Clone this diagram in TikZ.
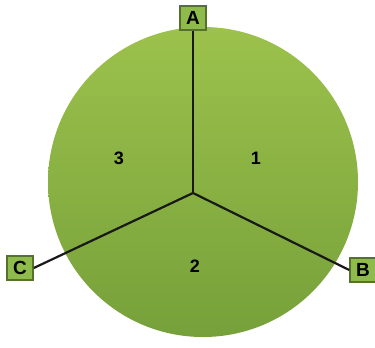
\documentclass[tikz,border=0pt]{standalone}
\usepackage{fontspec}
\setmainfont{Liberation Sans}
\begin{document}
\begin{tikzpicture}[x=1pt,y=-1pt,
  lbl/.style={draw=boxg!60!black, line width=1.5pt, fill=boxg, minimum width=26pt, minimum height=24pt, inner sep=0pt, font=\fontsize{19}{19}\selectfont\bfseries},
  num/.style={font=\fontsize{18}{18}\selectfont\bfseries},
  spoke/.style={line width=2.2pt, black!90}]
\definecolor{topg}{HTML}{9CC24C}
\definecolor{botg}{HTML}{76A03A}
\definecolor{boxg}{HTML}{8FBA4C}
\useasboundingbox (0,0) rectangle (375,348);
\shade[top color=topg, bottom color=botg] (203,182) circle (155);
\coordinate (O) at (193,193);
\node[lbl] (A) at (193,18) {A};
\node[lbl] (B) at (363,270) {B};
\node[lbl] (C) at (20,268) {C};
\draw[spoke] (O) -- (A.south);
\draw[spoke] (O) -- (B.west);
\draw[spoke] (O) -- (C.east);
\node[num] (n1) at (256,158) {1};
\node[num] (n2) at (195,266) {2};
\node[num] (n3) at (119,158) {3};
\end{tikzpicture}
\end{document}
